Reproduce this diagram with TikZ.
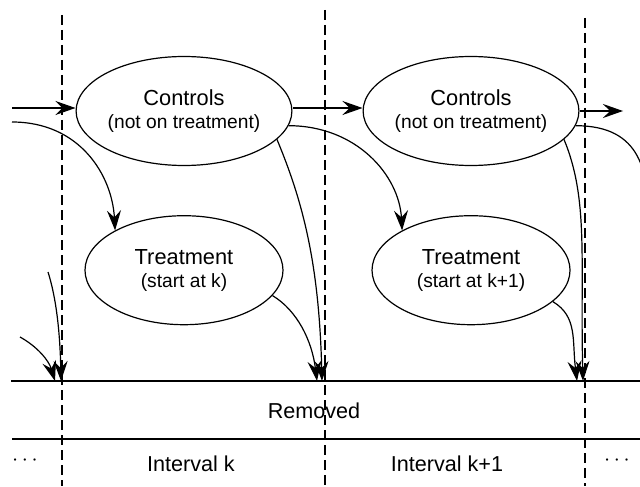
\documentclass[tikz,border=0pt]{standalone}
\usepackage{fontspec}
\setmainfont{Liberation Sans}
\usepackage{tikz}
\usetikzlibrary{shapes.geometric, positioning, arrows.meta}

\newcommand{\subtext}[1]{{\fontsize{9.6}{11.5}\selectfont #1}}

\begin{document}
\begin{tikzpicture}[x=0.5pt, y=-0.5pt,
        state/.style={ellipse, draw, line width=0.6pt, minimum width=99pt,
            minimum height=54.5pt, inner sep=0pt, align=center,
            font=\fontsize{10.9}{11.5}\selectfont},
        arr/.style={-{Stealth[length=10pt, width=7pt, inset=3.5pt]}, line width=0.6pt},
        cut/.style={dash pattern=on 5pt off 2.5pt, line width=0.6pt},
        rule/.style={line width=0.7pt},
        lab/.style={font=\fontsize{10.8}{12}\selectfont}]
        \useasboundingbox (0,0) rectangle (640,486);
        \clip (0,0) rectangle (640,486);

        % Add the states
        \node[state]                    (c1) at (184,111) {Controls\\\subtext{(not on treatment)}};
        \node[state, right=35pt of c1]  (c2) {Controls\\\subtext{(not on treatment)}};
        \node[state, below=24.5pt of c1] (t1) {Treatment\\\subtext{(start at k)}};
        \node[state, below=24.5pt of c2] (t2) {Treatment\\\subtext{(start at k+1)}};

        % Free ends
        \coordinate (in1)  at (12,108);
        \coordinate (in2)  at (12,122);
        \coordinate (out1) at (623,111);
        \coordinate (out2) at (650,230);
        \coordinate (p1)   at (48,272);
        \coordinate (p2)   at (20,337);
        \coordinate (r0a)  at (55,381);
        \coordinate (r0b)  at (61,381);
        \coordinate (r1a)  at (317,381);
        \coordinate (r1b)  at (322,381);
        \coordinate (r2a)  at (577,381);
        \coordinate (r2b)  at (583,381);

        % Interval borders and the removed band
        \coordinate (d1t) at (62,15);  \coordinate (d1b) at (62,486);
        \coordinate (d2t) at (325,10); \coordinate (d2b) at (325,486);
        \coordinate (d3t) at (585,18); \coordinate (d3b) at (585,486);
        \coordinate (h1l) at (11,381); \coordinate (h1r) at (640,381);
        \coordinate (h2l) at (12,439); \coordinate (h2r) at (640,439);

        \draw[cut] (d1t) -- (d1b);
        \draw[cut] (d2t) -- (d2b);
        \draw[cut] (d3t) -- (d3b);
        \draw[rule] (h1l) -- (h1r);
        \draw[rule] (h2l) -- (h2r);

        % Labels
        \node[lab] (rem) at (314,411) {Removed};
        \node[lab] (ik)  at (191,464) {Interval k};
        \node[lab] (ik1) at (447,464) {Interval k+1};
        \node[lab] (dl)  at (25,461)  {$\cdots$};
        \node[lab] (dr)  at (617,461) {$\cdots$};

        % Connect the states with arrows
        \draw[arr] (in1) -- (in1 -| c1.west);
        \draw[arr] (c1.east |- in1) -- (c2.west |- in1);
        \draw[arr] (c2.east |- out1) -- (out1);
        \draw[arr] (in2) .. controls +(68,0) and +(-3,-55) .. (t1.150);
        \draw[arr] (c1.-8) .. controls +(68,0) and +(-3,-55) .. (t2.150);
        \draw[arr] (c2.-8) .. controls +(68,0) and +(-3,-55) .. (out2);
        \draw[arr] (c1.-17) .. controls +(25,60) and +(-3,-120) .. (r1b);
        \draw[arr] (c2.-17) .. controls +(25,60) and +(-3,-120) .. (r2b);
        \draw[arr] (t1.-16) .. controls +(25,15) and +(-5,-40) .. (r1a);
        \draw[arr] (t2.-21) .. controls +(25,15) and +(-5,-40) .. (r2a);
        \draw[arr] (p1) .. controls +(8,25) and +(-1,-50) .. (r0b);
        \draw[arr] (p2) .. controls +(18,10) and +(-6,-20) .. (r0a);
\end{tikzpicture}
\end{document}
